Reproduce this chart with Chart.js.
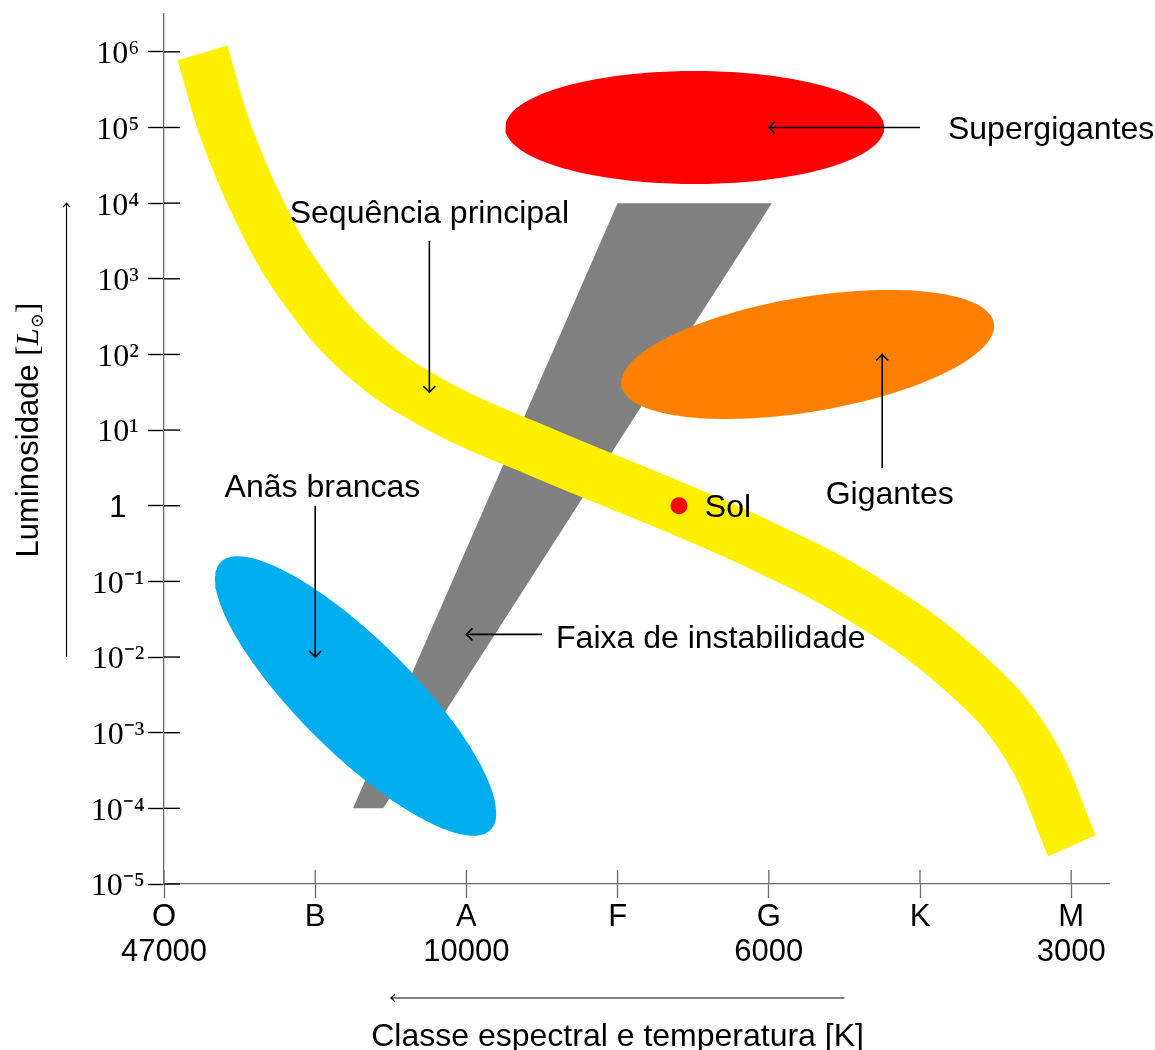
<!DOCTYPE html>
<html>
<head>
<meta charset="utf-8">
<script src="https://cdn.jsdelivr.net/npm/chart.js@4.4.1/dist/chart.umd.min.js"></script>
<style>
html,body{margin:0;padding:0;background:#ffffff;}
#wrap{width:1155px;height:1050px;}
</style>
</head>
<body>
<div id="wrap"><canvas id="c" width="1155" height="1050"></canvas></div>
<script>
// ---- data ----
const spectralClasses = ['O','B','A','F','G','K','M'];
const temperatureLabels = ['47000','','10000','','6000','','3000'];
const logLuminosityTicks = [-5,-4,-3,-2,-1,0,1,2,3,4,5,6];

const mainSequenceX    = [0.255, 0.405, 0.626, 0.899, 1.310, 1.825, 2.487, 3.003, 3.406, 3.942, 4.603, 5.265, 5.708, 6.005];
const mainSequenceLogL = [5.985, 4.970, 3.919, 2.959, 2.001, 1.304, 0.716, 0.289, -0.042, -0.518, -1.205, -2.157, -3.157, -4.494];

const instabilityStripX    = [3.0, 4.02, 1.45, 1.25];
const instabilityStripLogL = [4, 4, -4, -4];

// ellipse: centre (x, logL), then two conjugate semi-axes (dx, dlogL)
const supergiantsEllipse = [3.51, 5.0, 1.254, 0, 0, 0.747];
const giantsEllipse      = [4.257, 2.0, 1.232, 0.4125, 0.0626, -0.747];
const whiteDwarfsEllipse = [1.267, -2.515, 0.892, -1.770, -0.264, -0.531];

const sunPoint = [3.406, 0];

const annotationTexts = ['Supergigantes','Sequência principal','Gigantes','Anãs brancas','Faixa de instabilidade','Sol'];
const annotationTextX = [5.185, 1.755, 4.80, 1.048, 2.593, 3.577];
const annotationTextLogL = [5.0, 3.883, 0.169, 0.274, -1.722, 0.0];
const annotationAlign = ['left','center','center','center','left','left'];
const arrowFromX    = [5.0, 1.755, 4.75, 1.0, 2.5];
const arrowFromLogL = [5.0, 3.5, 0.5, 0.0, -1.7];
const arrowToX      = [4.0, 1.755, 4.75, 1.0, 2.0];
const arrowToLogL   = [5.0, 1.5, 2.0, -2.0, -1.7];

const xTitle = 'Classe espectral e temperatura [K]';
const yTitleText = 'Luminosidade ';
const xTitleArrow = [4.5, 1.5];   // spectral-axis values, arrow points to second
const yTitleArrow = [-2, 4];      // logL values, arrow points to second

// ---- helpers ----
const SUP = {'-':'\u207B','0':'\u2070','1':'\u00B9','2':'\u00B2','3':'\u00B3','4':'\u2074','5':'\u2075','6':'\u2076','7':'\u2077','8':'\u2078','9':'\u2079'};
function sup(v){ return String(v).split('').map(c => SUP[c] || c).join(''); }

function ellipsePoints(e){
  const pts = [];
  const n = 200;
  for (let i = 0; i <= n; i++) {
    const t = 2 * Math.PI * i / n;
    pts.push({x: e[0] + e[2]*Math.cos(t) + e[4]*Math.sin(t),
              y: e[1] + e[3]*Math.cos(t) + e[5]*Math.sin(t)});
  }
  return pts;
}
const stripPts = instabilityStripX.map((x,i)=>({x, y: instabilityStripLogL[i]}));
stripPts.push({x: instabilityStripX[0], y: instabilityStripLogL[0]});
const mainSeqPts = mainSequenceX.map((x,i)=>({x, y: mainSequenceLogL[i]}));

function arrowHead(ctx, x1, y1, x2, y2, len, half){
  const a = Math.atan2(y2 - y1, x2 - x1);
  ctx.save();
  ctx.translate(x2, y2);
  ctx.rotate(a);
  ctx.beginPath();
  ctx.moveTo(-len, -half);
  ctx.quadraticCurveTo(-len*0.3, -half*0.25, 0, 0);
  ctx.quadraticCurveTo(-len*0.3, half*0.25, -len, half);
  ctx.stroke();
  ctx.restore();
}
function arrow(ctx, x1, y1, x2, y2, lw, len, half){
  ctx.lineWidth = lw;
  ctx.beginPath();
  ctx.moveTo(x1, y1);
  ctx.lineTo(x2, y2);
  ctx.stroke();
  arrowHead(ctx, x1, y1, x2, y2, len, half);
}

const SANS = '"Liberation Sans", Arial, Helvetica, sans-serif';
const SERIF = '"Liberation Serif", "Times New Roman", serif';

const hrExtras = {
  id: 'hrExtras',
  afterDatasetsDraw(chart){
    const {ctx, chartArea} = chart;
    const x = chart.scales.x, y = chart.scales.y;
    ctx.save();
    // inner halves of tick marks
    ctx.strokeStyle = '#000';
    ctx.lineWidth = 1.4;
    y.ticks.forEach(t => {
      const py = y.getPixelForValue(t.value);
      ctx.beginPath(); ctx.moveTo(chartArea.left, py); ctx.lineTo(chartArea.left + 16, py); ctx.stroke();
    });
    ctx.strokeStyle = '#6b6b6b';
    ctx.lineWidth = 1.3;
    x.ticks.forEach(t => {
      const px = x.getPixelForValue(t.value);
      ctx.beginPath(); ctx.moveTo(px, chartArea.bottom); ctx.lineTo(px, chartArea.bottom - 14); ctx.stroke();
    });

    // annotation arrows
    ctx.strokeStyle = '#000';
    ctx.lineCap = 'butt';
    for (let i = 0; i < arrowFromX.length; i++) {
      arrow(ctx, x.getPixelForValue(arrowFromX[i]), y.getPixelForValue(arrowFromLogL[i]),
                 x.getPixelForValue(arrowToX[i]), y.getPixelForValue(arrowToLogL[i]), 1.6, 6, 6);
    }
    // annotation texts
    ctx.fillStyle = '#000';
    ctx.font = '32px ' + SANS;
    ctx.textBaseline = 'alphabetic';
    for (let i = 0; i < annotationTexts.length; i++) {
      ctx.textAlign = annotationAlign[i];
      ctx.fillText(annotationTexts[i], x.getPixelForValue(annotationTextX[i]),
                   y.getPixelForValue(annotationTextLogL[i]) + 11.5);
    }

    // x-axis title and arrow
    ctx.textAlign = 'center';
    ctx.fillText(xTitle, x.getPixelForValue((xTitleArrow[0] + xTitleArrow[1]) / 2), 1046);
    arrow(ctx, x.getPixelForValue(xTitleArrow[0]), 998, x.getPixelForValue(xTitleArrow[1]), 998, 1.1, 4, 3.5);

    // y-axis title and arrow
    arrow(ctx, 66.5, y.getPixelForValue(yTitleArrow[0]), 66.5, y.getPixelForValue(yTitleArrow[1]), 1.1, 4, 3.5);
    const runs = [
      {t: yTitleText, f: '31px ' + SANS, dy: 0},
      {t: '[', f: '31px ' + SERIF, dy: 0},
      {t: 'L', f: 'italic 31px ' + SERIF, dy: 0},
      {t: '\u2299', f: '18px "DejaVu Serif", serif', dy: 5},
      {t: ']', f: '31px ' + SERIF, dy: 0}
    ];
    let total = 0;
    runs.forEach(r => { ctx.font = r.f; r.w = ctx.measureText(r.t).width; total += r.w; });
    ctx.save();
    ctx.translate(37.5, y.getPixelForValue((yTitleArrow[0] + yTitleArrow[1]) / 2));
    ctx.rotate(-Math.PI / 2);
    ctx.textAlign = 'left';
    let cx = -total / 2;
    runs.forEach(r => { ctx.font = r.f; ctx.fillText(r.t, cx, r.dy); cx += r.w; });
    ctx.restore();

    ctx.restore();
  }
};

new Chart(document.getElementById('c'), {
  type: 'scatter',
  data: {
    datasets: [
      {
        label: 'Faixa de instabilidade',
        data: stripPts,
        showLine: true, fill: 'shape', tension: 0,
        backgroundColor: '#808080', borderColor: 'rgba(0,0,0,0)', borderWidth: 0,
        pointRadius: 0, order: 6, clip: false
      },
      {
        label: 'Sequência principal',
        data: mainSeqPts,
        showLine: true, fill: false, tension: 0.4,
        borderColor: '#fff000', borderWidth: 52, borderCapStyle: 'butt', borderJoinStyle: 'round',
        pointRadius: 0, order: 5, clip: false
      },
      {
        label: 'Anãs brancas',
        data: ellipsePoints(whiteDwarfsEllipse),
        showLine: true, fill: 'shape', tension: 0,
        backgroundColor: '#00aeef', borderColor: 'rgba(0,0,0,0)', borderWidth: 0,
        pointRadius: 0, order: 4, clip: false
      },
      {
        label: 'Gigantes',
        data: ellipsePoints(giantsEllipse),
        showLine: true, fill: 'shape', tension: 0,
        backgroundColor: '#ff8000', borderColor: 'rgba(0,0,0,0)', borderWidth: 0,
        pointRadius: 0, order: 3, clip: false
      },
      {
        label: 'Supergigantes',
        data: ellipsePoints(supergiantsEllipse),
        showLine: true, fill: 'shape', tension: 0,
        backgroundColor: '#ff0000', borderColor: 'rgba(0,0,0,0)', borderWidth: 0,
        pointRadius: 0, order: 2, clip: false
      },
      {
        label: 'Sol',
        data: [{x: sunPoint[0], y: sunPoint[1]}],
        showLine: false,
        backgroundColor: '#ff0000', borderColor: '#ff0000', borderWidth: 0,
        pointRadius: 8.5, order: 1, clip: false
      }
    ]
  },
  options: {
    responsive: false,
    animation: false,
    events: [],
    layout: {padding: {top: 14, right: 46, left: 0, bottom: 0}},
    plugins: {legend: {display: false}, tooltip: {enabled: false}},
    scales: {
      x: {
        type: 'linear', min: 0, max: 6.25,
        afterBuildTicks: s => { s.ticks = spectralClasses.map((c, i) => ({value: i})); },
        afterFit: s => { s.height = 166; s.paddingLeft = 0; s.paddingRight = 0; },
        ticks: {
          autoSkip: false, maxRotation: 0, minRotation: 0, padding: 1,
          color: '#000',
          font: {family: SANS, size: 31, lineHeight: 1.16},
          callback: v => { const i = Math.round(v); return [spectralClasses[i], temperatureLabels[i]]; }
        },
        grid: {drawOnChartArea: false, drawTicks: true, tickLength: 14, tickColor: '#6b6b6b', tickWidth: 1.3},
        border: {color: '#6b6b6b', width: 1.3}
      },
      y: {
        type: 'linear', min: -5, max: 6.5,
        afterBuildTicks: s => { s.ticks = logLuminosityTicks.map(v => ({value: v})); },
        afterFit: s => { s.width = 164; s.paddingTop = 0; s.paddingBottom = 0; },
        ticks: {
          autoSkip: false, crossAlign: 'center', padding: 3, labelOffset: 3,
          color: '#000',
          font: ctx => (ctx.tick && ctx.tick.value === 0) ? {family: SANS, size: 31} : {family: SERIF, size: 32},
          callback: v => v === 0 ? '1' : '10' + sup(v)
        },
        grid: {drawOnChartArea: false, drawTicks: true, tickLength: 16, tickColor: '#000', tickWidth: 1.4},
        border: {color: '#6b6b6b', width: 1.3}
      }
    }
  },
  plugins: [hrExtras]
});
</script>
</body>
</html>
